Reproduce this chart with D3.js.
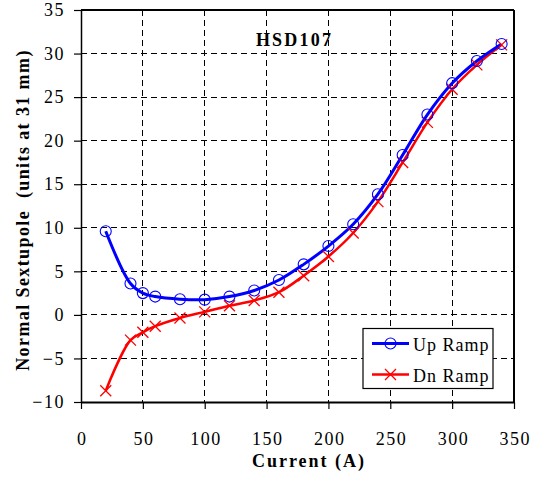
<!DOCTYPE html>
<html><head><meta charset="utf-8">
<script src="https://cdn.jsdelivr.net/npm/d3@7"></script>
<style>body{margin:0;background:#fff}svg{display:block}</style>
</head><body>
<svg id="c" width="533" height="480"></svg>
<script>
const current = [20,40,50,60,80,100,120,140,160,180,200,220,240,260,280,300,320,340];
const upRamp = [9.6,3.6,2.5,2.1,1.8,1.75,2.1,2.8,4.0,5.8,7.9,10.4,13.85,18.35,23.0,26.6,29.15,31.1];
const dnRamp = [-8.7,-2.9,-2.0,-1.3,-0.35,0.35,1.05,1.65,2.6,4.5,6.7,9.4,13.0,17.5,22.1,25.9,28.7,31.0];
const xTicks = [0,50,100,150,200,250,300,350];
const yTicks = [-10,-5,0,5,10,15,20,25,30,35];
const seriesNames = ["Up Ramp","Dn Ramp"];

const svg = d3.select("#c");
const L=81,R=514,T=10,B=402;
const x = d3.scaleLinear().domain([0,350]).range([L,R]);
const y = d3.scaleLinear().domain([-10,35]).range([B,T]);
const font = "'Liberation Serif','Times New Roman',serif";

// grid
const g = svg.append("g");
g.selectAll(".gx").data(xTicks.slice(1,-1)).enter().append("line")
 .attr("x1",d=>x(d)).attr("x2",d=>x(d)).attr("y1",T).attr("y2",B)
 .attr("stroke","#000").attr("stroke-width",1).attr("stroke-dasharray","6,4").attr("shape-rendering","crispEdges");
g.selectAll(".gy").data(yTicks.slice(1,-1)).enter().append("line")
 .attr("y1",d=>y(d)).attr("y2",d=>y(d)).attr("x1",L).attr("x2",R)
 .attr("stroke","#000").attr("stroke-width",1).attr("stroke-dasharray","6,4").attr("shape-rendering","crispEdges");

// border
svg.append("line").attr("x1",L).attr("x2",R).attr("y1",T).attr("y2",T).attr("stroke","#000").attr("stroke-width",2);
svg.append("line").attr("x1",R).attr("x2",R).attr("y1",T).attr("y2",B).attr("stroke","#000").attr("stroke-width",2);

// axes
const xa = svg.append("g").attr("transform",`translate(0,${B})`)
 .call(d3.axisBottom(x).tickValues(xTicks).tickSize(7).tickPadding(23).tickSizeOuter(0));
const ya = svg.append("g").attr("transform",`translate(${L},0)`)
 .call(d3.axisLeft(y).tickValues(yTicks).tickSize(7).tickPadding(9).tickSizeOuter(0));
[xa,ya].forEach(a=>{
 a.attr("font-family",font);
 a.selectAll("path").attr("stroke","#000").attr("stroke-width",1.5);
 a.selectAll("line").attr("stroke","#000").attr("stroke-width",1.2);
 a.selectAll("text").attr("font-family",font).attr("font-size",18).attr("letter-spacing",1.5).attr("fill","#000");
});
xa.selectAll("text").attr("dx",0.75);
xa.select(".domain").attr("stroke-width",2);

// lines
const up = current.map((c,i)=>[c,upRamp[i]]);
const dn = current.map((c,i)=>[c,dnRamp[i]]);
const line = d3.line().x(d=>x(d[0])).y(d=>y(d[1])).curve(d3.curveCatmullRom.alpha(0.5));
svg.append("path").attr("d",line(dn)).attr("fill","none").attr("stroke","#ff0000").attr("stroke-width",2.5);
svg.append("path").attr("d",line(up)).attr("fill","none").attr("stroke","#0000ff").attr("stroke-width",3);

const cs=5.5;
svg.selectAll(".cx").data(dn).enter().append("path")
 .attr("d",d=>`M${x(d[0])-cs},${y(d[1])-cs}L${x(d[0])+cs},${y(d[1])+cs}M${x(d[0])-cs},${y(d[1])+cs}L${x(d[0])+cs},${y(d[1])-cs}`)
 .attr("stroke","#ff0000").attr("stroke-width",1.3).attr("fill","none");
svg.selectAll(".ci").data(up).enter().append("circle")
 .attr("cx",d=>x(d[0])).attr("cy",d=>y(d[1])).attr("r",5.5)
 .attr("fill","none").attr("stroke","#0000ff").attr("stroke-width",1.1);

// title
svg.append("text").attr("x",294.5).attr("y",46).attr("text-anchor","middle")
 .attr("font-family",font).attr("font-weight","bold").attr("font-size",18).attr("letter-spacing",2.2).text("HSD107");

// legend
const lg = svg.append("g");
lg.append("rect").attr("x",363).attr("y",328.5).attr("width",130).attr("height",60)
 .attr("fill","#fff").attr("stroke","#000").attr("stroke-width",1.2);
const ly=[343.5,374.5];
lg.append("line").attr("x1",372).attr("x2",409).attr("y1",ly[0]).attr("y2",ly[0]).attr("stroke","#0000ff").attr("stroke-width",3);
lg.append("circle").attr("cx",390.5).attr("cy",ly[0]).attr("r",5.5).attr("fill","none").attr("stroke","#0000ff").attr("stroke-width",1.1);
lg.append("line").attr("x1",372).attr("x2",409).attr("y1",ly[1]).attr("y2",ly[1]).attr("stroke","#ff0000").attr("stroke-width",2.5);
lg.append("path").attr("d",`M${390.5-cs},${ly[1]-cs}L${390.5+cs},${ly[1]+cs}M${390.5-cs},${ly[1]+cs}L${390.5+cs},${ly[1]-cs}`)
 .attr("stroke","#ff0000").attr("stroke-width",1.3);
lg.selectAll(".lt").data(seriesNames).enter().append("text")
 .attr("x",413).attr("y",(d,i)=>ly[i]+7).attr("font-family",font).attr("font-size",18).attr("letter-spacing",1).text(d=>d);

// axis titles
svg.append("text").attr("x",309).attr("y",467).attr("text-anchor","middle")
 .attr("font-family",font).attr("font-weight","bold").attr("font-size",18).attr("letter-spacing",2).text("Current (A)");
svg.append("text").attr("transform","translate(29,210) rotate(-90)").attr("text-anchor","middle")
 .attr("font-family",font).attr("font-weight","bold").attr("font-size",18).attr("letter-spacing",1.4).style("white-space","pre")
 .text("Normal Sextupole  (units at 31 mm)");
</script>
</body></html>
